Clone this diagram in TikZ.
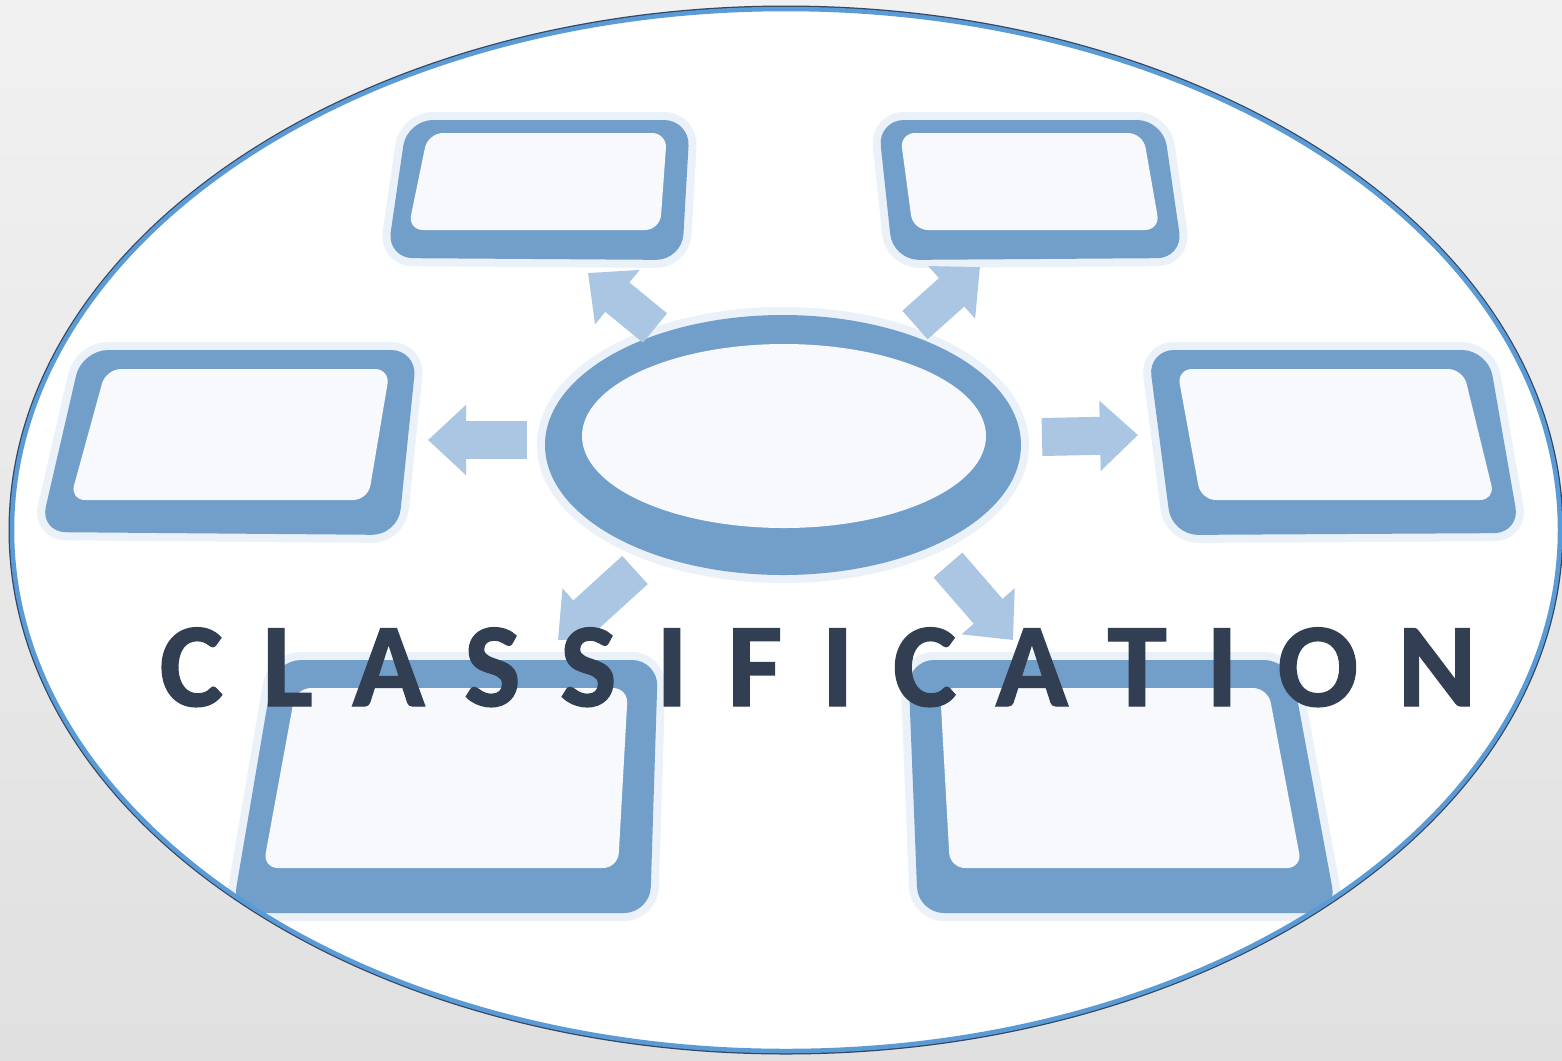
\documentclass[tikz,border=0pt]{standalone}
\usepackage{fontspec}
\setmainfont{Carlito}
\usetikzlibrary{arrows.meta}

\definecolor{bgtop}{RGB}{241,241,241}
\definecolor{bgbottom}{RGB}{224,224,224}
\definecolor{rimblue}{RGB}{91,155,213}
\definecolor{rimdark}{RGB}{50,70,100}
\definecolor{panelblue}{RGB}{114,159,202}
\definecolor{panelwhite}{RGB}{247,249,252}
\definecolor{halo}{RGB}{234,241,248}
\definecolor{arrowblue}{RGB}{170,198,226}
\definecolor{textslate}{RGB}{50,62,82}

\begin{document}
\begin{tikzpicture}[x=0.1mm, y=-0.1mm,
	panel/.style={fill=panelblue, rounded corners=2.6mm, preaction={draw=halo, line width=1.6mm}},
	panelin/.style={fill=panelwhite, rounded corners=1.5mm},
	flowarrow/.style={draw=arrowblue, line width=3.8mm, -{Triangle[width=6.8mm,length=3.8mm]}},
	title/.style={font=\fontsize{34pt}{40pt}\selectfont\bfseries\addfontfeature{FakeBold=1.2}, text=textslate, inner sep=0pt}]

				% BACKGROUND

				\shade[top color=bgtop, bottom color=bgbottom] (0,0) rectangle (1562,1060);
				\useasboundingbox (0,0) rectangle (1562,1060);
				\fill[white] (786,530) ellipse [x radius=775, y radius=522];

				\begin{scope}
				\clip (786,530) ellipse [x radius=775, y radius=522];

				% PANELS

				\fill[panel] (407,120) -- (690,120) -- (682,260) -- (387,258) -- cycle;
				\fill[panelin] (428,133) -- (667,133) -- (660,230) -- (408,230) -- cycle;
				\coordinate (tlpanel) at (537,190);

				\fill[panel] (878,120) -- (1163,120) -- (1183,258) -- (893,260) -- cycle;
				\fill[panelin] (900,133) -- (1143,133) -- (1160,230) -- (913,230) -- cycle;
				\coordinate (trpanel) at (1030,190);

				\fill[panel] (82,350) -- (417,350) -- (398,535) -- (40,532) -- cycle;
				\fill[panelin] (106,369) -- (390,369) -- (368,500) -- (70,500) -- cycle;
				\coordinate (lpanel) at (230,440);

				\fill[panel] (1148,350) -- (1488,350) -- (1520,533) -- (1172,535) -- cycle;
				\fill[panelin] (1177,369) -- (1463,369) -- (1495,500) -- (1201,500) -- cycle;
				\coordinate (rpanel) at (1335,440);

				\fill[panel] (275,660) -- (658,660) -- (650,913) -- (232,913) -- cycle;
				\fill[panelin] (296,688) -- (628,688) -- (618,868) -- (263,868) -- cycle;
				\coordinate (blpanel) at (445,785);

				\fill[panel] (908,660) -- (1290,660) -- (1337,913) -- (918,913) -- cycle;
				\fill[panelin] (940,688) -- (1268,688) -- (1302,868) -- (950,868) -- cycle;
				\coordinate (brpanel) at (1125,785);

				% CENTRE

				\fill[panelblue, preaction={draw=halo, line width=1.6mm}] (783,445) ellipse [x radius=238, y radius=130];
				\fill[panelwhite] (784,436) ellipse [x radius=202, y radius=92];
				\coordinate (hub) at (783,445);

				% ARROWS

				\coordinate (lfrom) at (527,440);
				\coordinate (lto) at (428,440);
				\coordinate (rfrom) at (1042,437);
				\coordinate (rto) at (1138,435);
				\coordinate (tlfrom) at (655,328);
				\coordinate (tlto) at (588,273);
				\coordinate (trfrom) at (915,325);
				\coordinate (trto) at (980,267);
				\coordinate (blfrom) at (635,570);
				\coordinate (blto) at (558,640);
				\coordinate (brfrom) at (948,565);
				\coordinate (brto) at (1013,640);

				\draw[flowarrow] (lfrom) -- (lto);
				\draw[flowarrow] (rfrom) -- (rto);
				\draw[flowarrow] (tlfrom) -- (tlto);
				\draw[flowarrow] (trfrom) -- (trto);
				\draw[flowarrow] (blfrom) -- (blto);
				\draw[flowarrow] (brfrom) -- (brto);
				\end{scope}

				% RIM

				\draw[rimdark, line width=0.3mm] (786,530) ellipse [x radius=776, y radius=523];
				\draw[rimblue, line width=0.45mm] (786,530) ellipse [x radius=774, y radius=521];

				% TITLE

				\node[title, anchor=base west] (heading) at (159,706) {\spaceskip=0.33em C L A S S I F I C A T I O N};
			\end{tikzpicture}
\end{document}
